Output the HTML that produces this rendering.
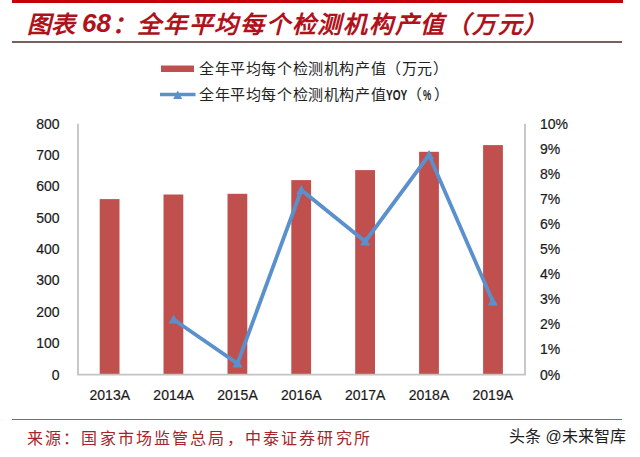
<!DOCTYPE html>
<html lang="zh-CN"><head><meta charset="utf-8">
<style>
html,body{margin:0;padding:0;background:#fff;}
body{width:640px;height:457px;position:relative;overflow:hidden;font-family:"Liberation Sans",sans-serif;}
.abs{position:absolute;white-space:nowrap;}
.tt{font-size:24px;font-weight:bold;font-style:italic;color:#b0121b;line-height:30px;}
.tt.num{font-size:26px;}
.leg{font-size:15px;color:#222;line-height:18px;letter-spacing:0.6px;}
.pct{display:inline-block;width:11px;font-size:14px;font-weight:bold;transform:scaleX(0.66);transform-origin:0 0;letter-spacing:0}
.yoy{display:inline-block;font-weight:bold;font-size:14px;transform:scaleX(0.72);transform-origin:0 0;width:21px;letter-spacing:0}
#src{left:27px;top:429.5px;font-size:16px;color:#a82428;letter-spacing:2.15px;line-height:18px;}
#wm{left:509px;top:426.5px;font-size:16px;color:#1e1e1e;font-weight:500;line-height:20px;}
svg{position:absolute;left:0;top:0;}
</style></head><body>
<div class="abs" style="left:12px;top:0;width:610.5px;height:3px;background:#c4000a"></div>
<div class="abs tt" style="left:27px;top:9.5px;letter-spacing:0px">图表</div>
<div class="abs tt num" style="left:82px;top:8px">68</div>
<div class="abs tt" style="left:112px;top:9.5px">：</div>
<div class="abs tt" style="left:137px;top:9.5px;letter-spacing:1.75px">全年平均每个检测机构产值（万元）</div>
<div class="abs" style="left:12px;top:41px;width:610px;height:1.6px;background:#7d5e5e"></div>
<div class="abs leg" style="left:199px;top:60px">全年平均每个检测机构产值（万元）</div>
<div class="abs leg" style="left:199px;top:86px">全年平均每个检测机构产值<span class="yoy">YOY</span>（<span class="pct">%</span>）</div>
<svg width="640" height="457" viewBox="0 0 640 457">
  <rect x="161" y="65.5" width="33" height="6.5" fill="#c0504d"/>
  <line x1="160" y1="94.5" x2="195.5" y2="94.5" stroke="#5a90cc" stroke-width="3.5"/>
  <polygon points="177.7,90.5 182.2,99 173.2,99" fill="#5a90cc"/>
  <g fill="#c0504d">
    <rect x="99.7" y="199.1" width="19.8" height="175.5"/>
    <rect x="163.5" y="194.5" width="19.8" height="180.1"/>
    <rect x="227.5" y="193.8" width="19.8" height="180.8"/>
    <rect x="291.3" y="180.1" width="19.8" height="194.5"/>
    <rect x="355.2" y="170.1" width="19.8" height="204.5"/>
    <rect x="419.1" y="151.8" width="19.8" height="222.8"/>
    <rect x="483.1" y="145.1" width="19.8" height="229.5"/>
  </g>
  <g stroke="#c3c3c3" stroke-width="1.8" fill="none">
    <polyline points="78,123.7 78,374.7 525,374.7 525,123.7"/>
  </g>
  <polyline points="173.6,319.5 237.5,363.5 301.3,190 365.2,241.5 429,155 492.8,301.5" fill="none" stroke="#5a90cc" stroke-width="3.8" stroke-linejoin="miter"/>
  <g fill="#5a90cc">
    <polygon points="173.6,314.5 178.6,323.5 168.6,323.5"/>
    <polygon points="237.5,358.5 242.5,367.5 232.5,367.5"/>
    <polygon points="301.3,185 306.3,194 296.3,194"/>
    <polygon points="365.2,236.5 370.2,245.5 360.2,245.5"/>
    <polygon points="429,150 434,159 424,159"/>
    <polygon points="492.8,296.5 497.8,305.5 487.8,305.5"/>
  </g>
  <g font-family="Liberation Sans, sans-serif" font-size="14" fill="#1a1a1a" stroke="#1a1a1a" stroke-width="0.2" text-anchor="end">
    <text x="59.5" y="128.7">800</text>
    <text x="59.5" y="160.0">700</text>
    <text x="59.5" y="191.4">600</text>
    <text x="59.5" y="222.7">500</text>
    <text x="59.5" y="254.1">400</text>
    <text x="59.5" y="285.4">300</text>
    <text x="59.5" y="316.8">200</text>
    <text x="59.5" y="348.1">100</text>
    <text x="59.5" y="379.5">0</text>
  </g>
  <g font-family="Liberation Sans, sans-serif" font-size="14" fill="#1a1a1a" stroke="#1a1a1a" stroke-width="0.2" text-anchor="start">
    <text x="540" y="128.7">10%</text>
    <text x="540" y="153.8">9%</text>
    <text x="540" y="178.9">8%</text>
    <text x="540" y="203.9">7%</text>
    <text x="540" y="229.0">6%</text>
    <text x="540" y="254.1">5%</text>
    <text x="540" y="279.2">4%</text>
    <text x="540" y="304.3">3%</text>
    <text x="540" y="329.3">2%</text>
    <text x="540" y="354.4">1%</text>
    <text x="540" y="379.5">0%</text>
  </g>
  <g font-family="Liberation Sans, sans-serif" font-size="14" fill="#1a1a1a" stroke="#1a1a1a" stroke-width="0.2" text-anchor="middle">
    <text x="109.8" y="400">2013A</text>
    <text x="173.6" y="400">2014A</text>
    <text x="237.5" y="400">2015A</text>
    <text x="301.3" y="400">2016A</text>
    <text x="365.2" y="400">2017A</text>
    <text x="429" y="400">2018A</text>
    <text x="492.8" y="400">2019A</text>
  </g>
</svg>
<div class="abs" style="left:12px;top:418.7px;width:609.5px;height:1.5px;background:#a05c68"></div>
<div class="abs" id="src">来源：国家市场监管总局，中泰证券研究所</div>
<div class="abs" id="wm">头条 @未来智库</div>
</body></html>
